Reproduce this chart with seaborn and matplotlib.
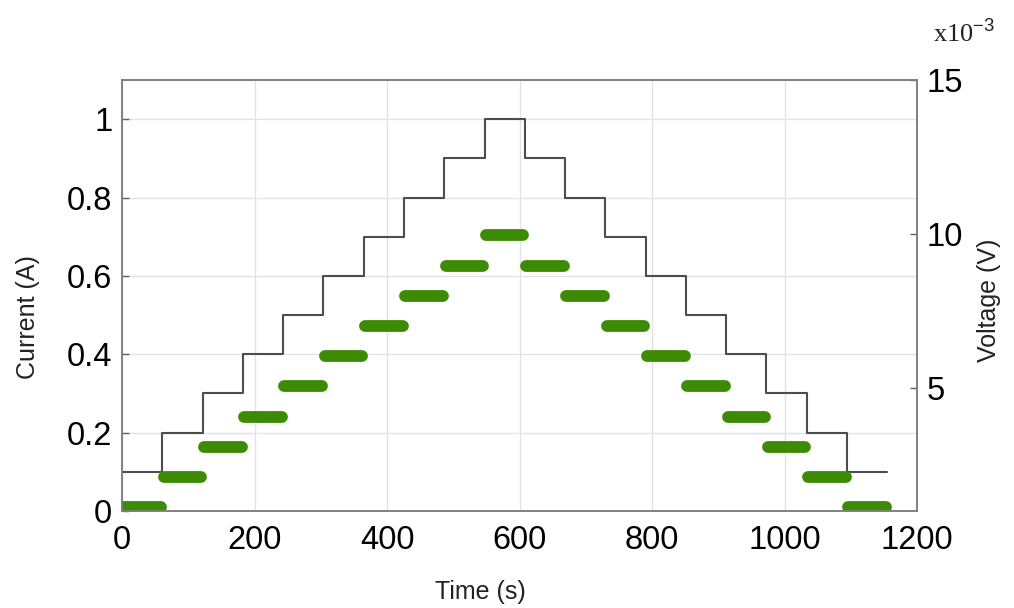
import matplotlib
matplotlib.use("Agg")
import matplotlib.pyplot as plt
import seaborn as sns
import pandas as pd

sns.set_theme(style="white")
plt.rcParams['font.family'] = ['Liberation Sans', 'DejaVu Sans']
plt.rcParams['mathtext.fontset'] = 'custom'
plt.rcParams['mathtext.rm'] = 'Liberation Sans'

# Step edges (s) and current levels (A)
step_edges = [0, 60.8, 121.6, 182.4, 243.2, 304.0, 364.8, 425.6, 486.4, 547.2,
              608.0, 668.8, 729.6, 790.4, 851.2, 912.0, 972.8, 1033.6, 1094.4, 1155.2]
current = [0.1, 0.2, 0.3, 0.4, 0.5, 0.6, 0.7, 0.8, 0.9, 1.0,
           0.9, 0.8, 0.7, 0.6, 0.5, 0.4, 0.3, 0.2, 0.1]
# Voltage (x1e-3 V) measured on each step
voltage_mV = [1.12, 2.1, 3.08, 4.06, 5.05, 6.05, 7.02, 8.0, 8.97, 9.95,
              8.97, 8.0, 7.02, 6.05, 5.05, 4.06, 3.08, 2.1, 1.12]

x_ticks = [0, 200, 400, 600, 800, 1000, 1200]
y_ticks = [0, 0.2, 0.4, 0.6, 0.8, 1]
y_tick_labels = ['0', '0.2', '0.4', '0.6', '0.8', '1']
v_ticks = [5, 10, 15]

fig = plt.figure(figsize=(10.14, 6.08), dpi=100)
ax = fig.add_axes([122/1014, 1 - 511/608, (917-122)/1014, (511-80)/608])
ax2 = ax.twinx()

# Current step line
cur_df = pd.DataFrame({'t': step_edges, 'I': current + [current[-1]]})
sns.lineplot(data=cur_df, x='t', y='I', ax=ax, color='#4d4d4d', linewidth=1.5,
             drawstyle='steps-post', estimator=None, sort=False)

# Voltage segments
for i, v in enumerate(voltage_mV):
    seg = pd.DataFrame({'t': [step_edges[i] + 2, step_edges[i + 1] - 2], 'V': [v, v]})
    sns.lineplot(data=seg, x='t', y='V', ax=ax2, color='#3d8a05', linewidth=8.5,
                 solid_capstyle='round', estimator=None, sort=False)

ax.set_xlim(0, 1200)
ax.set_ylim(0, 1.1)
ax2.set_ylim(1.0, 15)

ax.set_xticks(x_ticks)
ax.set_xticklabels([str(t) for t in x_ticks])
ax.set_yticks(y_ticks)
ax.set_yticklabels(y_tick_labels)
ax2.set_yticks(v_ticks)
ax2.set_yticklabels([str(v) for v in v_ticks])

ax.grid(True, color='#e3e3e3', linewidth=1.0)
ax.set_axisbelow(True)
ax2.grid(False)

for a in (ax, ax2):
    for s in a.spines.values():
        s.set_color('#808080')
        s.set_linewidth(1.2)
    a.tick_params(direction='in', length=5, width=1, color='#606060',
                  labelsize=23.5, labelcolor='black', pad=7)
ax.tick_params(axis='both', which='both', top=False, right=False)
ax.tick_params(axis='x', pad=10)

ax.set_xlabel('Time (s)', fontsize=18, color='#222222')
ax.set_ylabel('Current (A)', fontsize=18, color='#222222')
ax2.set_ylabel('Voltage (V)', fontsize=18, color='#222222')
ax.xaxis.set_label_coords((480-122)/(917-122), -(580-511)/(511-80))
ax.yaxis.set_label_coords(-(122-40)/(917-122), (511-317)/(511-80))
ax2.yaxis.set_label_coords(1 + (977-917)/(917-122), (511-300)/(511-80))

fig.text(933/1014, 1 - 33/608, r'x10$^{-3}$', fontsize=19, family='Liberation Serif',
         color='#222222', va='center', ha='left')

fig.savefig('out.png', dpi=100)
